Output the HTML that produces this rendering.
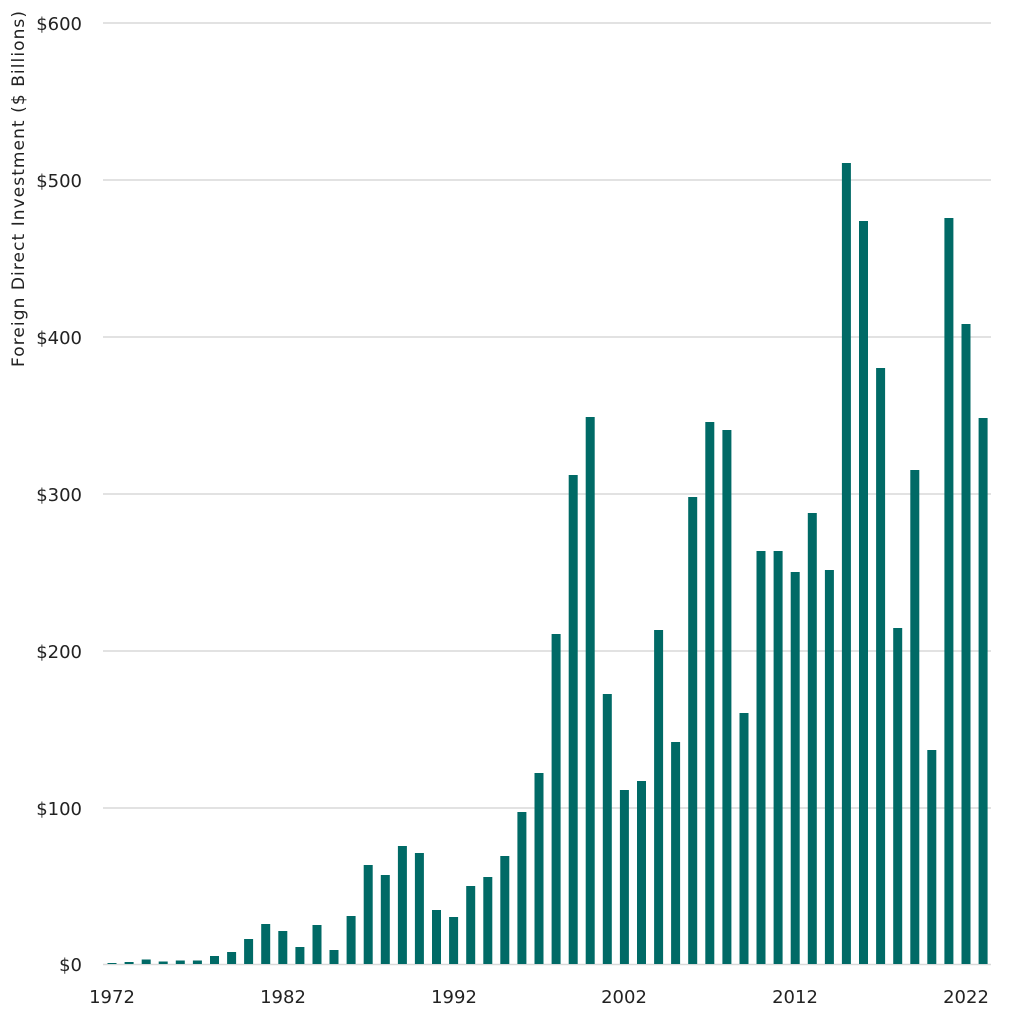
<!DOCTYPE html>
<html><head><meta charset="utf-8"><style>
html,body{margin:0;padding:0;background:#fff;}
svg{display:block;}
text{font-family:"DejaVu Sans","Liberation Sans",sans-serif;fill:#222;}
</style></head><body>
<svg width="1024" height="1024" viewBox="0 0 1024 1024" xmlns="http://www.w3.org/2000/svg">
<g stroke="#d9d9d9" stroke-width="1.5">
<line x1="103" y1="23" x2="991" y2="23"/>
<line x1="103" y1="180" x2="991" y2="180"/>
<line x1="103" y1="337" x2="991" y2="337"/>
<line x1="103" y1="494" x2="991" y2="494"/>
<line x1="103" y1="651" x2="991" y2="651"/>
<line x1="103" y1="808" x2="991" y2="808"/>
<line x1="103" y1="964.5" x2="991" y2="964.5"/>
</g>
<g font-size="18" text-anchor="end">
<text x="82" y="30">$600</text>
<text x="82" y="187">$500</text>
<text x="82" y="344">$400</text>
<text x="82" y="501">$300</text>
<text x="82" y="658">$200</text>
<text x="82" y="815">$100</text>
<text x="82" y="971">$0</text>
</g>
<text font-size="17" text-anchor="middle" transform="translate(24,189) rotate(-90)" textLength="356">Foreign Direct Investment  ($ Billions)</text>
<g font-size="18" text-anchor="middle">
<text x="112" y="1003">1972</text>
<text x="283" y="1003">1982</text>
<text x="454" y="1003">1992</text>
<text x="624" y="1003">2002</text>
<text x="795" y="1003">2012</text>
<text x="966" y="1003">2022</text>
</g>
<g fill="#006a66">
<rect x="107.5" y="963" width="9" height="1"/>
<rect x="124.6" y="962" width="9" height="2"/>
<rect x="141.7" y="959.5" width="9" height="4.5"/>
<rect x="158.7" y="961.5" width="9" height="2.5"/>
<rect x="175.8" y="960.5" width="9" height="3.5"/>
<rect x="192.9" y="960.5" width="9" height="3.5"/>
<rect x="210.0" y="956" width="9" height="8"/>
<rect x="227.1" y="952" width="9" height="12"/>
<rect x="244.1" y="939" width="9" height="25"/>
<rect x="261.2" y="924" width="9" height="40"/>
<rect x="278.3" y="931" width="9" height="33"/>
<rect x="295.4" y="947" width="9" height="17"/>
<rect x="312.5" y="925" width="9" height="39"/>
<rect x="329.5" y="950" width="9" height="14"/>
<rect x="346.6" y="916" width="9" height="48"/>
<rect x="363.7" y="865" width="9" height="99"/>
<rect x="380.8" y="875" width="9" height="89"/>
<rect x="397.9" y="846" width="9" height="118"/>
<rect x="414.9" y="853" width="9" height="111"/>
<rect x="432.0" y="910" width="9" height="54"/>
<rect x="449.1" y="917" width="9" height="47"/>
<rect x="466.2" y="886" width="9" height="78"/>
<rect x="483.3" y="877" width="9" height="87"/>
<rect x="500.3" y="856" width="9" height="108"/>
<rect x="517.4" y="812" width="9" height="152"/>
<rect x="534.5" y="773" width="9" height="191"/>
<rect x="551.6" y="634" width="9" height="330"/>
<rect x="568.7" y="475" width="9" height="489"/>
<rect x="585.7" y="417" width="9" height="547"/>
<rect x="602.8" y="694" width="9" height="270"/>
<rect x="619.9" y="790" width="9" height="174"/>
<rect x="637.0" y="781" width="9" height="183"/>
<rect x="654.1" y="630" width="9" height="334"/>
<rect x="671.1" y="742" width="9" height="222"/>
<rect x="688.2" y="497" width="9" height="467"/>
<rect x="705.3" y="422" width="9" height="542"/>
<rect x="722.4" y="430" width="9" height="534"/>
<rect x="739.5" y="713" width="9" height="251"/>
<rect x="756.5" y="551" width="9" height="413"/>
<rect x="773.6" y="551" width="9" height="413"/>
<rect x="790.7" y="572" width="9" height="392"/>
<rect x="807.8" y="513" width="9" height="451"/>
<rect x="824.9" y="570" width="9" height="394"/>
<rect x="841.9" y="163" width="9" height="801"/>
<rect x="859.0" y="221" width="9" height="743"/>
<rect x="876.1" y="368" width="9" height="596"/>
<rect x="893.2" y="628" width="9" height="336"/>
<rect x="910.3" y="470" width="9" height="494"/>
<rect x="927.3" y="750" width="9" height="214"/>
<rect x="944.4" y="218" width="9" height="746"/>
<rect x="961.5" y="324" width="9" height="640"/>
<rect x="978.6" y="418" width="9" height="546"/>
</g>
</svg>
</body></html>
